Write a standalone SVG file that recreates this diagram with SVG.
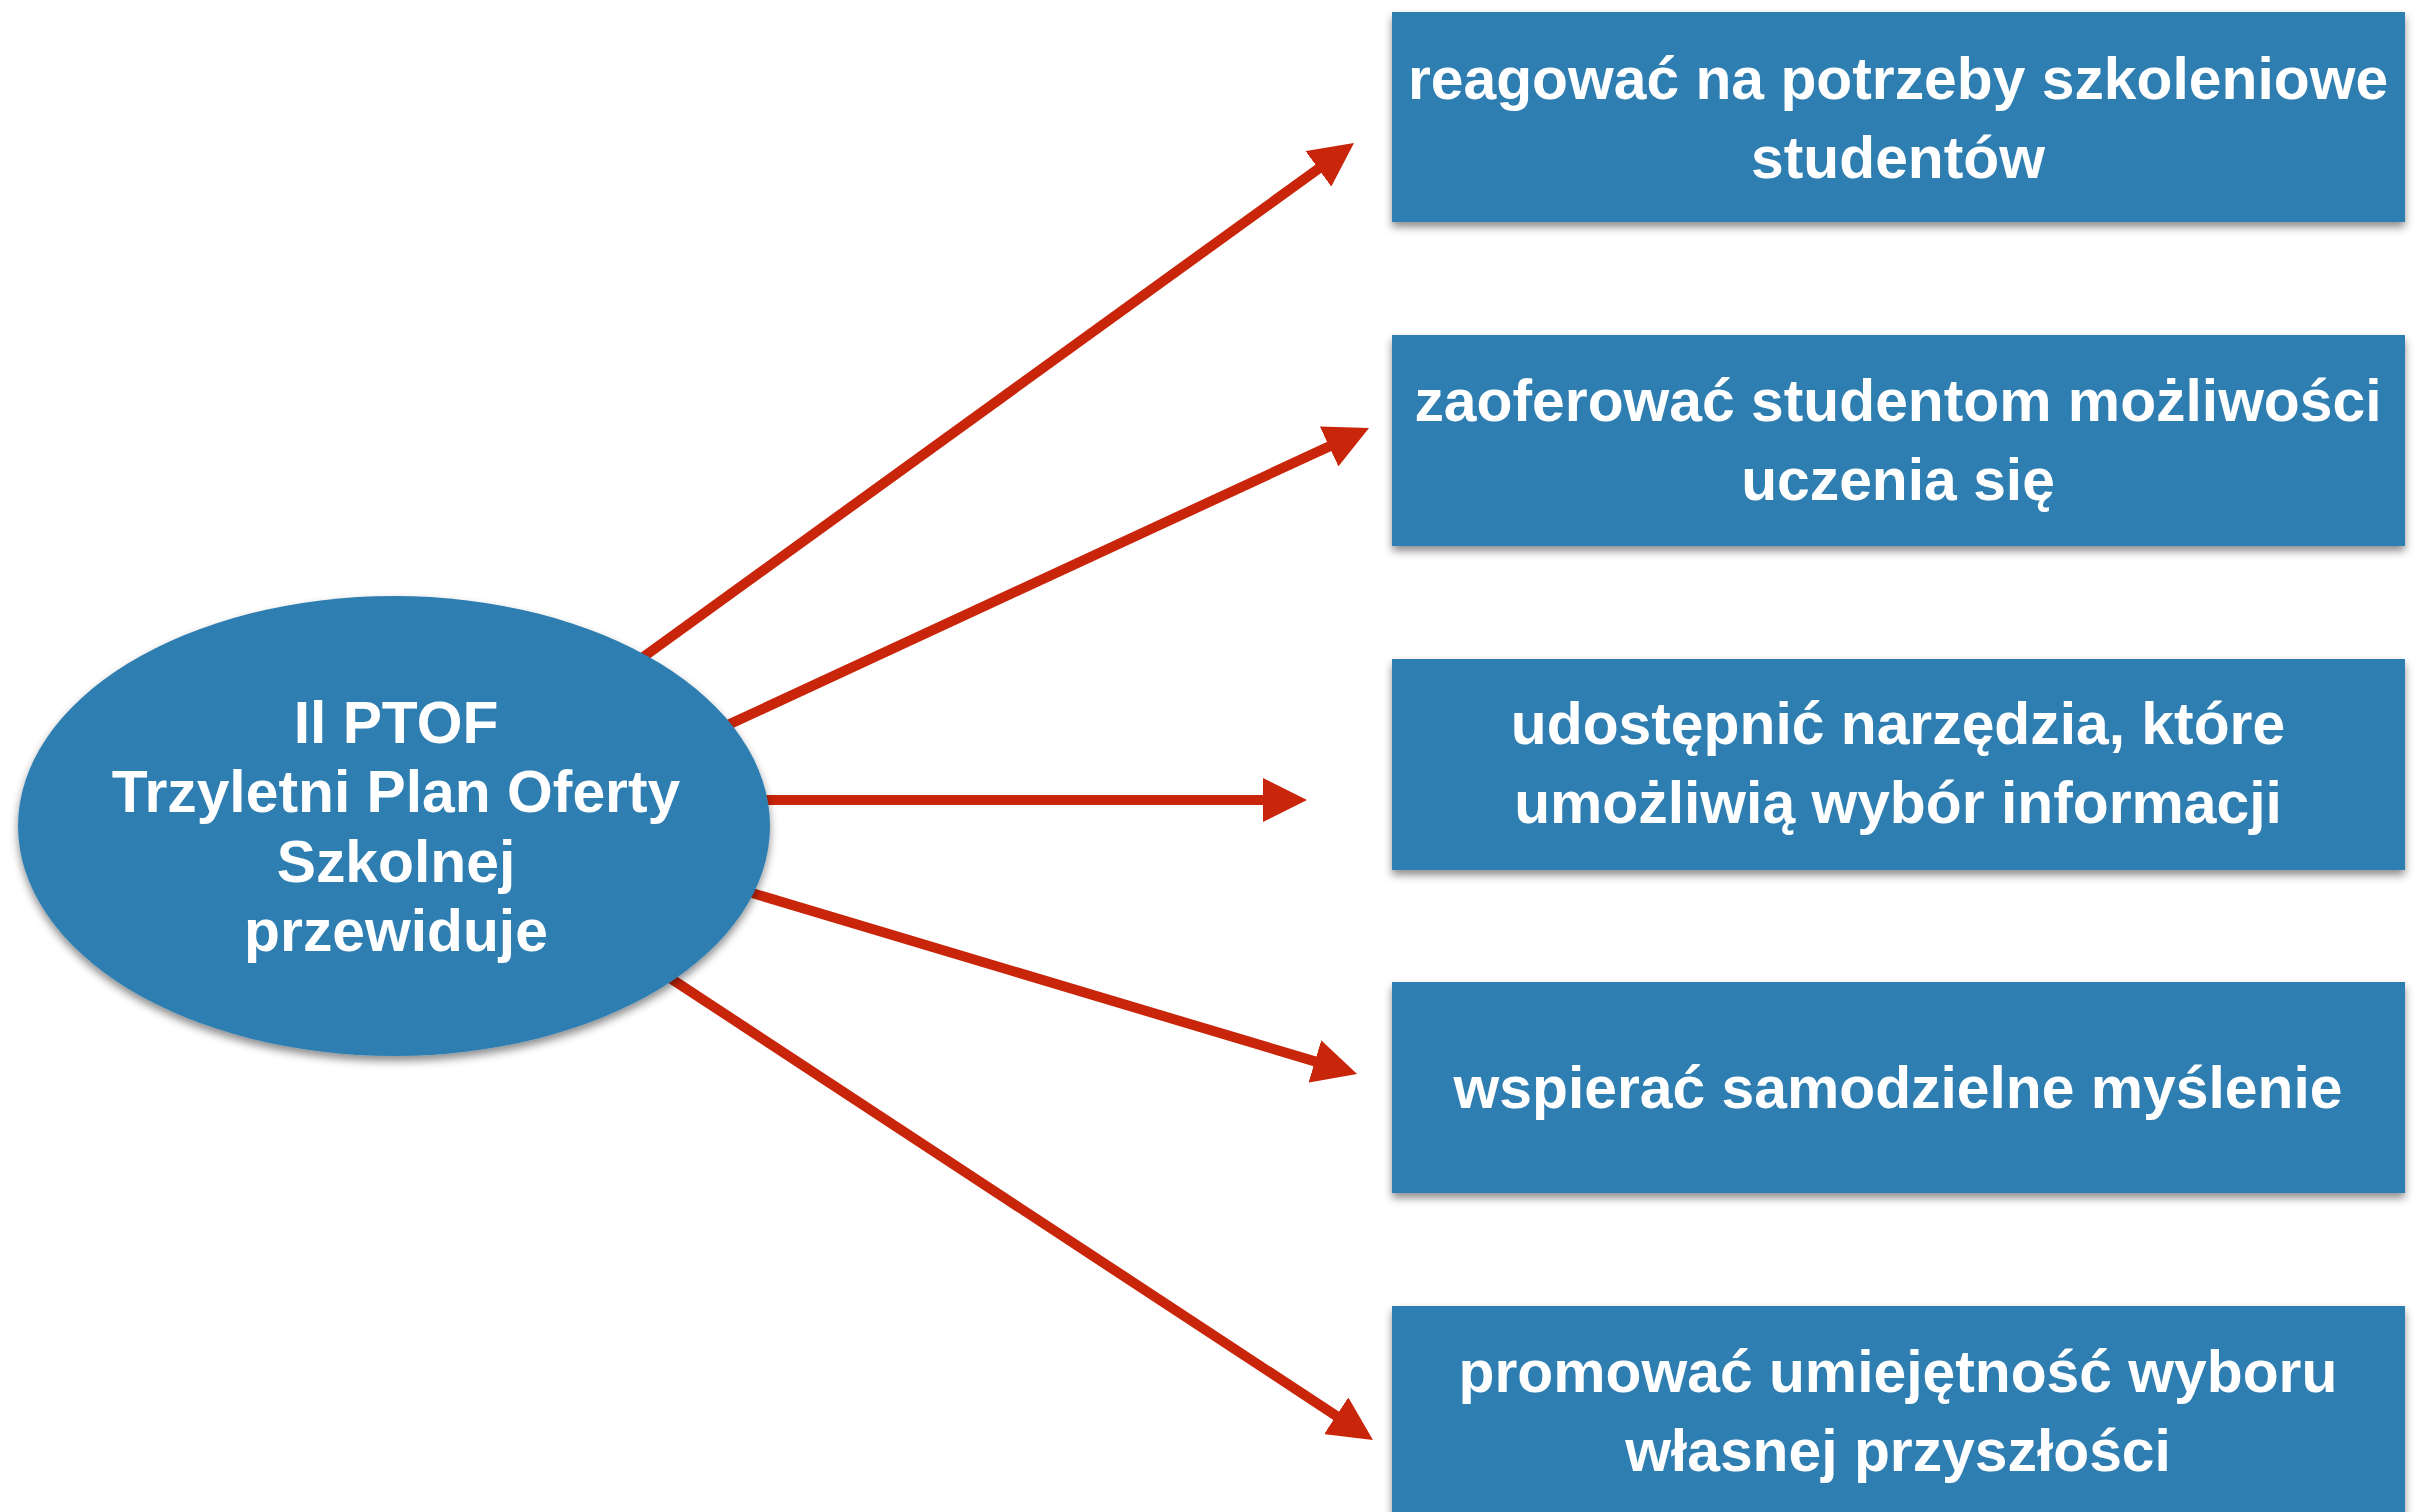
<svg xmlns="http://www.w3.org/2000/svg" width="2424" height="1512" viewBox="0 0 2424 1512">
  <style>
    .node { fill: #2F7EB1; filter: url(#shadow); }
    .label { font-family: "Liberation Sans", Arial, sans-serif; font-weight: bold; font-size: 58.8px; fill: #FFFFFF; text-anchor: middle; }
    .conn { stroke: #C8250A; stroke-width: 10; fill: none; marker-end: url(#arrow); }
  </style>
  <defs>
    <filter id="shadow" x="-10%" y="-10%" width="120%" height="130%">
      <feDropShadow dx="0" dy="5" stdDeviation="4" flood-color="#000000" flood-opacity="0.45"/>
    </filter>
    <marker id="arrow" markerUnits="userSpaceOnUse" viewBox="0 0 44 44" markerWidth="44" markerHeight="44" refX="14" refY="22" orient="auto">
      <path d="M0,0 L44,22 L0,44 Z" fill="#C8250A"/>
    </marker>
  </defs>
  <rect width="2424" height="1512" fill="#FFFFFF"/>

  <g id="connectors">
    <line class="conn" x1="629.8" y1="666.7" x2="1329.7" y2="160.6"/>
    <line class="conn" x1="713.9" y1="731.4" x2="1341.8" y2="440.6"/>
    <line class="conn" x1="740" y1="800" x2="1277" y2="800"/>
    <line class="conn" x1="732.8" y1="887.3" x2="1328.3" y2="1065.4"/>
    <line class="conn" x1="656.3" y1="969" x2="1347.9" y2="1423.5"/>
  </g>

  <g id="center">
    <ellipse class="node" cx="394" cy="826" rx="376" ry="230"/>
    <text class="label" x="396" y="743">Il PTOF</text>
    <text class="label" x="396" y="812">Trzyletni Plan Oferty</text>
    <text class="label" x="396" y="882">Szkolnej</text>
    <text class="label" x="396" y="951">przewiduje</text>
  </g>

  <g id="box1">
    <rect class="node" x="1392" y="12" width="1013" height="210"/>
    <text class="label" x="1898" y="99">reagować na potrzeby szkoleniowe</text>
    <text class="label" x="1898" y="178">studentów</text>
  </g>

  <g id="box2">
    <rect class="node" x="1392" y="335" width="1013" height="211"/>
    <text class="label" x="1898" y="421">zaoferować studentom możliwości</text>
    <text class="label" x="1898" y="500">uczenia się</text>
  </g>

  <g id="box3">
    <rect class="node" x="1392" y="659" width="1013" height="211"/>
    <text class="label" x="1898" y="744">udostępnić narzędzia, które</text>
    <text class="label" x="1898" y="823">umożliwią wybór informacji</text>
  </g>

  <g id="box4">
    <rect class="node" x="1392" y="982" width="1013" height="211"/>
    <text class="label" x="1898" y="1108">wspierać samodzielne myślenie</text>
  </g>

  <g id="box5">
    <rect class="node" x="1392" y="1306" width="1013" height="220"/>
    <text class="label" x="1898" y="1392">promować umiejętność wyboru</text>
    <text class="label" x="1898" y="1471">własnej przyszłości</text>
  </g>
</svg>
